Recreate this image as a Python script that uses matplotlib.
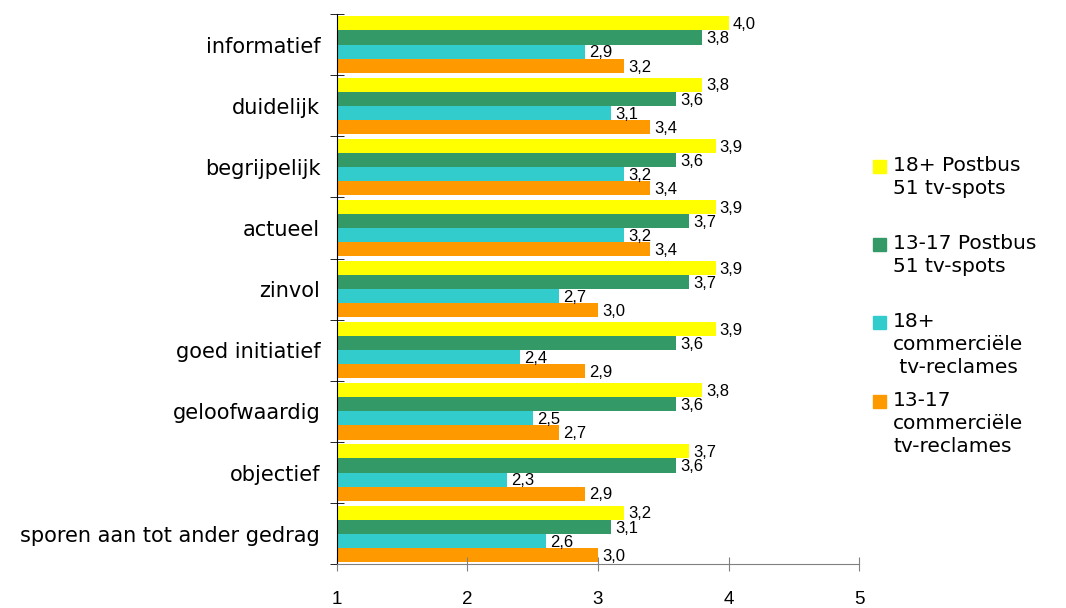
import matplotlib.pyplot as plt
from matplotlib.patches import Rectangle
import numpy as np

categories = ["informatief", "duidelijk", "begrijpelijk", "actueel", "zinvol",
              "goed initiatief", "geloofwaardig", "objectief",
              "sporen aan tot ander gedrag"]
series_names = ["18+ Postbus\n51 tv-spots", "13-17 Postbus\n51 tv-spots",
                "18+\ncommerciële\n tv-reclames", "13-17\ncommerciële\ntv-reclames"]
adult_postbus = [4.0, 3.8, 3.9, 3.9, 3.9, 3.9, 3.8, 3.7, 3.2]
teen_postbus = [3.8, 3.6, 3.6, 3.7, 3.7, 3.6, 3.6, 3.6, 3.1]
adult_commercial = [2.9, 3.1, 3.2, 3.2, 2.7, 2.4, 2.5, 2.3, 2.6]
teen_commercial = [3.2, 3.4, 3.4, 3.4, 3.0, 2.9, 2.7, 2.9, 3.0]
colors = ["#FFFF00", "#339966", "#33CCCC", "#FF9900"]

fig = plt.figure(figsize=(10.66, 6.08), dpi=100)
ax = fig.add_axes([0.316, 0.072, 0.49, 0.905])

y = np.arange(len(categories))
h = 0.23
all_series = [adult_postbus, teen_postbus, adult_commercial, teen_commercial]
for i, vals in enumerate(all_series):
    pos = y - 1.5 * h + i * h
    ax.barh(pos, vals, height=h, color=colors[i])

# value labels on top of everything
for i, vals in enumerate(all_series):
    pos = y - 1.5 * h + i * h
    for p, v in zip(pos, vals):
        ax.annotate(f"{v:.1f}".replace(".", ","), (v, p), xytext=(3, -1),
                    textcoords="offset points", va="center", ha="left",
                    fontsize=12, family="Liberation Sans", zorder=5)

ax.set_xlim(1, 5)
ax.set_ylim(len(categories) - 0.5, -0.5)
ax.set_xticks([1, 2, 3, 4, 5])
ax.set_xticklabels(["1", "2", "3", "4", "5"], family="Liberation Sans", fontsize=13.5)
ax.tick_params(axis="x", direction="inout", length=10, color="#808080", pad=14)

ax.set_yticks(y)
ax.set_yticklabels(categories, fontsize=15)
ax.tick_params(axis="y", length=0, pad=12)
ax.set_yticks(np.arange(len(categories) + 1) - 0.5, minor=True)
ax.tick_params(axis="y", which="minor", direction="inout", length=9.5, color="black")

ax.spines["top"].set_visible(False)
ax.spines["right"].set_visible(False)
ax.spines["bottom"].set_color("#808080")
ax.spines["left"].set_color("black")

# legend: square aligned with first text line
legend_y = [166, 244, 322, 401]  # pixel rows of first line
for name, c, ly in zip(series_names, colors, legend_y):
    yf = 1 - ly / 608
    fig.patches.append(Rectangle((873 / 1066, yf - 7 / 608), 13 / 1066, 13 / 608,
                                 transform=fig.transFigure, color=c))
    fig.text(893 / 1066, yf + 10 / 608, name, fontsize=14.5, va="top", ha="left",
             linespacing=1.28)

fig.savefig("out.png", dpi=100)
